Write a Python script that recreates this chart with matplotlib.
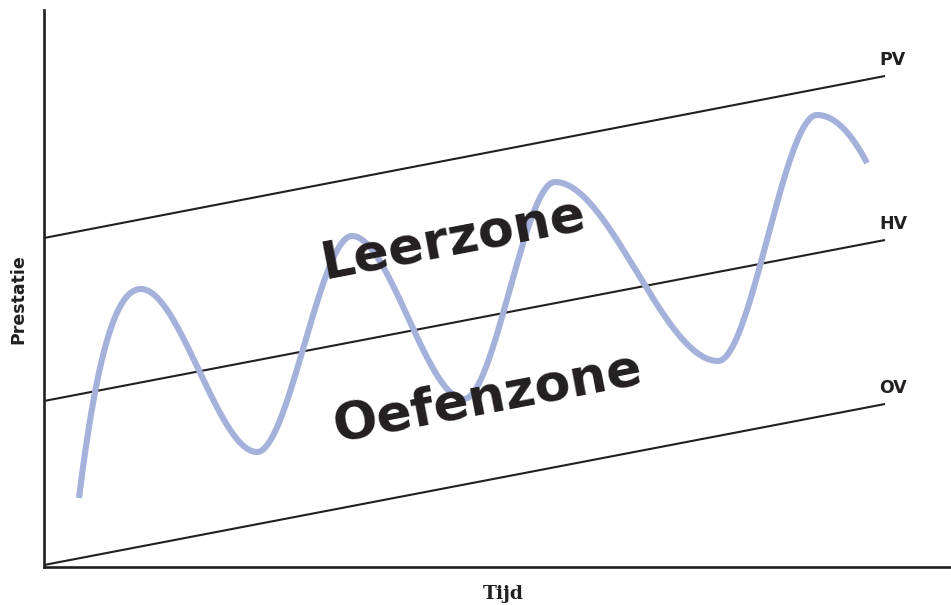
import numpy as np
import matplotlib
matplotlib.use("Agg")
import matplotlib.pyplot as plt

# ---- data (axis units: time 0..907, performance 0..557) ----
band_names = ["OV", "HV", "PV"]
band_start = [2, 166, 329]      # value at time 0
band_end = [163, 327, 491]      # value at time 841
band_t = [0, 841]

# key points (extrema) of the performance curve
curve_t = [35, 97, 213, 308, 420, 511, 674, 773, 823]
curve_y = [69, 278, 115, 331, 168, 385, 206, 452, 404]

zone_labels = ["Leerzone", "Oefenzone"]
x_label = "Tijd"
y_label = "Prestatie"

ink = "#231f20"
curve_col = "#a3b1db"

fig = plt.figure(figsize=(9.51, 6.05), dpi=100)
W, H = 951, 605
ax = fig.add_axes([44 / W, (605 - 567) / H, 907 / W, 557 / H])
ax.set_xlim(0, 907)
ax.set_ylim(0, 557)
ax.set_xticks([])
ax.set_yticks([])
for s in ["top", "right"]:
    ax.spines[s].set_visible(False)
for s in ["left", "bottom"]:
    ax.spines[s].set_linewidth(1.9)
    ax.spines[s].set_color(ink)

# band lines
for name, y0, y1 in zip(band_names, band_start, band_end):
    ax.plot(band_t, [y0, y1], color=ink, lw=1.5, solid_capstyle="butt", zorder=2)
    ax.text(band_t[1] - 6, y1 + 7, name, fontsize=12.5, fontweight="bold",
            color=ink, ha="left", va="bottom")

# smooth curve through extrema (cubic Hermite, zero slope at extrema)
tt, yy = [], []
n = len(curve_t)
for i in range(n - 1):
    t0, t1 = curve_t[i], curve_t[i + 1]
    p0, p1 = curve_y[i], curve_y[i + 1]
    h = t1 - t0
    d = (p1 - p0) / h
    m0 = 0.0 if i > 0 else 2.4 * d
    m1 = 0.0 if i < n - 2 else 2.0 * d
    s = np.linspace(0, 1, 80)
    h00 = 2 * s**3 - 3 * s**2 + 1
    h10 = s**3 - 2 * s**2 + s
    h01 = -2 * s**3 + 3 * s**2
    h11 = s**3 - s**2
    tt.append(t0 + s * h)
    yy.append(h00 * p0 + h10 * h * m0 + h01 * p1 + h11 * h * m1)
ax.plot(np.concatenate(tt), np.concatenate(yy), color=curve_col, lw=4.4,
        solid_capstyle="butt", zorder=3)

# zone labels
angle = np.degrees(np.arctan((band_end[1] - band_start[1]) / 841))
ax.text(409, 327, zone_labels[0], fontsize=37.5, fontweight="bold", color=ink,
        rotation=angle, rotation_mode="anchor", ha="center", va="center", zorder=4)
ax.text(444, 169, zone_labels[1], fontsize=37.5, fontweight="bold", color=ink,
        rotation=angle, rotation_mode="anchor", ha="center", va="center", zorder=4)

fig.text(503 / W, 1 - 594 / H, x_label, fontsize=13.5, fontweight="bold",
         family="DejaVu Serif", color=ink, ha="center", va="center")
fig.text(18 / W, 1 - 299 / H, y_label, fontsize=12.5, fontweight="bold",
         color=ink, ha="center", va="center", rotation=90)

fig.savefig("out.png", dpi=100)
